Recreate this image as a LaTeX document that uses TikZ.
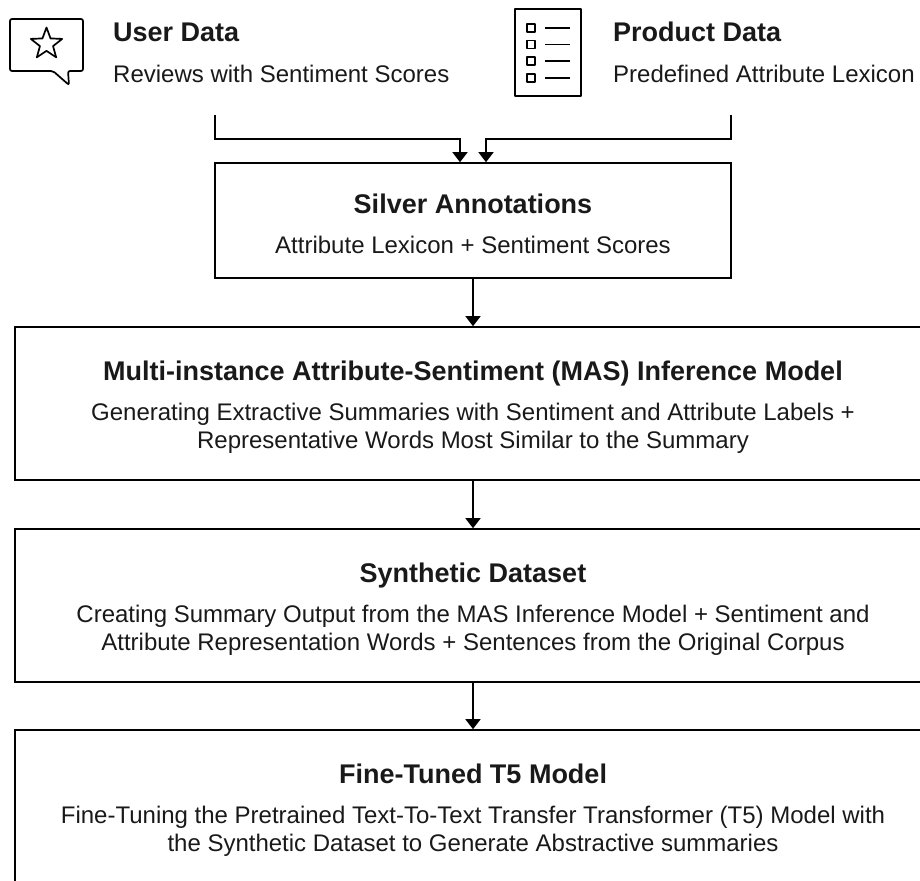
\documentclass[tikz,border=0pt]{standalone}
\usepackage{fontspec}
\setmainfont{Liberation Sans}
\usetikzlibrary{arrows.meta,positioning,shapes.geometric,calc}
\tikzset{
  stage/.style={draw, line width=1.6pt, align=center, font=\fontsize{24}{28}\selectfont, text=black!90},
  heading/.style={anchor=west, font=\fontsize{27}{30}\selectfont\bfseries, text=black!90, inner sep=0pt},
  caption/.style={anchor=west, font=\fontsize{24}{28}\selectfont, text=black!90, inner sep=0pt},
  flow/.style={-{Triangle[length=10pt,width=15pt]}, line width=1.6pt},
  icon/.style={line width=1.7pt, line join=round},
}
\newcommand{\stagetitle}[1]{{\rule{0pt}{26pt}\fontsize{27}{28}\selectfont\bfseries #1}\\[12pt]}

\begin{document}
\begin{tikzpicture}[x=1pt,y=1pt]
  \useasboundingbox (0,0) rectangle (920,-880);

  % Sources
  \node[heading] (user) at (113,-32) {User Data};
  \node[caption] (usertext) at (113,-74) {Reviews with Sentiment Scores};
  \node[heading] (product) at (613,-32) {Product Data};
  \node[caption] (producttext) at (613,-74) {Predefined Attribute Lexicon};

  % Speech bubble
  \draw[icon, rounded corners=2pt] (10,-19) -- (83,-19) -- (83,-71) -- (68,-71) -- (69,-85) -- (53,-71) -- (10,-71) -- cycle;
  \node[draw, icon, star, star points=5, star point ratio=2.4, minimum size=33pt, inner sep=0pt] (staricon) at (46.5,-44) {};

  % Checklist
  \node[draw, icon, minimum width=66pt, minimum height=87pt, inner sep=0pt] (listicon) at (548,-52.5) {};
  \foreach \y in {-28,-44.5,-61,-78} {
    \draw[icon] (527,\y-4) rectangle (535,\y+4);
    \draw[icon] (545,\y) -- (570,\y);
  }

  % Pipeline
  \node[stage, minimum width=516pt, minimum height=115pt] (silver) at (473,-220.5)
    {\stagetitle{Silver Annotations}Attribute Lexicon + Sentiment Scores};
  \node[stage, minimum width=916pt, minimum height=153pt] (mas) at (473,-403.5)
    {\stagetitle{Multi-instance Attribute-Sentiment (MAS) Inference Model}Generating Extractive Summaries with Sentiment and Attribute Labels +\\Representative Words Most Similar to the Summary};
  \node[stage, minimum width=916pt, minimum height=153pt] (synth) at (473,-605.5)
    {\stagetitle{Synthetic Dataset}Creating Summary Output from the MAS Inference Model + Sentiment and\\Attribute Representation Words + Sentences from the Original Corpus};
  \node[stage, minimum width=916pt, minimum height=153pt] (tfive) at (473,-806.5)
    {\stagetitle{Fine-Tuned T5 Model}Fine-Tuning the Pretrained Text-To-Text Transfer Transformer (T5) Model with\\the Synthetic Dataset to Generate Abstractive summaries};

  % Connectors
  \coordinate (userout) at (215,-115);
  \coordinate (productout) at (731,-115);
  \draw[flow] (userout) -- ++(0,-24) -| ([xshift=-13pt]silver.north);
  \draw[flow] (productout) -- ++(0,-24) -| ([xshift=13pt]silver.north);
  \draw[flow] (silver) -- (mas);
  \draw[flow] (mas) -- (synth);
  \draw[flow] (synth) -- (tfive);
\end{tikzpicture}
\end{document}
